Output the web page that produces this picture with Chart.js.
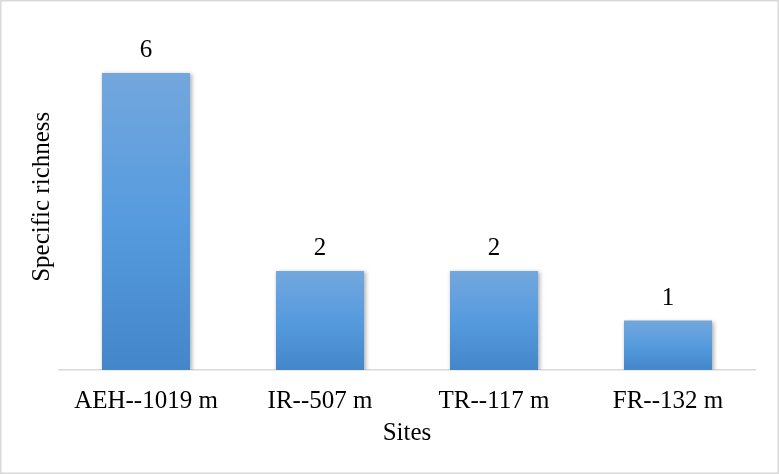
<!DOCTYPE html>
<html>
<head>
<meta charset="utf-8">
<script src="https://cdn.jsdelivr.net/npm/chart.js@4/dist/chart.umd.min.js"></script>
<style>
  html, body { margin: 0; padding: 0; background: #fff; }
  #wrap { width: 779px; height: 474px; }
</style>
</head>
<body>
<div id="wrap"><canvas id="richnessChart"></canvas></div>
<script>
// Données
const sites = ['AEH--1019 m', 'IR--507 m', 'TR--117 m', 'FR--132 m'];
const richness = [6, 2, 2, 1];

const serif = '"Liberation Serif", "Times New Roman", serif';
const fontSize = 25;

// dégradé vertical par barre (clair en haut, plus foncé en bas)
function barGradient(context) {
  const chart = context.chart;
  if (!chart.chartArea || context.raw === undefined) return '#5b9bd5';
  const y = chart.scales.y;
  const top = y.getPixelForValue(context.raw);
  const base = y.getPixelForValue(0);
  const g = chart.ctx.createLinearGradient(0, top, 0, base);
  g.addColorStop(0, 'rgb(115,167,221)');
  g.addColorStop(0.5, 'rgb(86,155,222)');
  g.addColorStop(1, 'rgb(67,135,202)');
  return g;
}

const decor = {
  id: 'decor',
  beforeDraw(chart) {
    const ctx = chart.ctx;
    ctx.save();
    ctx.fillStyle = '#fff';
    ctx.fillRect(0, 0, chart.width, chart.height);
    ctx.restore();
  },
  beforeDatasetsDraw(chart) {
    const ctx = chart.ctx;
    ctx.save();
    ctx.shadowColor = 'rgba(0,0,0,0.3)';
    ctx.shadowBlur = 4;
    ctx.shadowOffsetX = 1.5;
    ctx.shadowOffsetY = 1;
  },
  afterDatasetsDraw(chart) {
    const ctx = chart.ctx;
    ctx.restore();
    // étiquettes de valeur au-dessus des barres
    ctx.save();
    ctx.font = fontSize + 'px ' + serif;
    ctx.fillStyle = '#000';
    ctx.textAlign = 'center';
    ctx.textBaseline = 'alphabetic';
    chart.getDatasetMeta(0).data.forEach((bar, i) => {
      ctx.fillText(String(richness[i]), bar.x, bar.y - 16);
    });
    ctx.restore();
  },
  afterDraw(chart) {
    const ctx = chart.ctx;
    const area = chart.chartArea;
    ctx.save();
    ctx.font = fontSize + 'px ' + serif;
    ctx.fillStyle = '#000';
    ctx.textAlign = 'center';
    ctx.textBaseline = 'middle';
    // titre de l'axe horizontal
    ctx.fillText('Sites', (area.left + area.right) / 2, 433);
    // titre de l'axe vertical
    ctx.textBaseline = 'alphabetic';
    ctx.translate(49, (area.top + area.bottom) / 2);
    ctx.rotate(-Math.PI / 2);
    ctx.fillText('Specific richness', 0, 0);
    ctx.restore();
    // cadre
    ctx.save();
    ctx.strokeStyle = '#d9d9d9';
    ctx.lineWidth = 1.5;
    ctx.strokeRect(0.75, 0.75, chart.width - 1.5, chart.height - 1.5);
    ctx.restore();
  }
};

new Chart(document.getElementById('richnessChart'), {
  type: 'bar',
  data: {
    labels: sites,
    datasets: [
      {
        label: 'Specific richness',
        data: richness,
        backgroundColor: barGradient,
        borderWidth: 0,
        categoryPercentage: 1,
        barPercentage: 0.506,
      },
    ],
  },
  options: {
    responsive: true,
    maintainAspectRatio: false,
    animation: false,
    layout: { padding: { left: 59, right: 24, top: 23.5, bottom: 42 } },
    plugins: {
      legend: { display: false },
      tooltip: { enabled: false },
    },
    scales: {
      y: {
        display: false,
        min: 0,
        max: 7,
      },
      x: {
        grid: { display: false, drawTicks: false, tickLength: 0 },
        border: { display: true, color: '#d9d9d9', width: 1.5 },
        ticks: {
          color: '#000',
          padding: 16,
          maxRotation: 0,
          font: { family: serif, size: fontSize },
        },
      },
    },
  },
  plugins: [decor],
});
</script>
</body>
</html>
